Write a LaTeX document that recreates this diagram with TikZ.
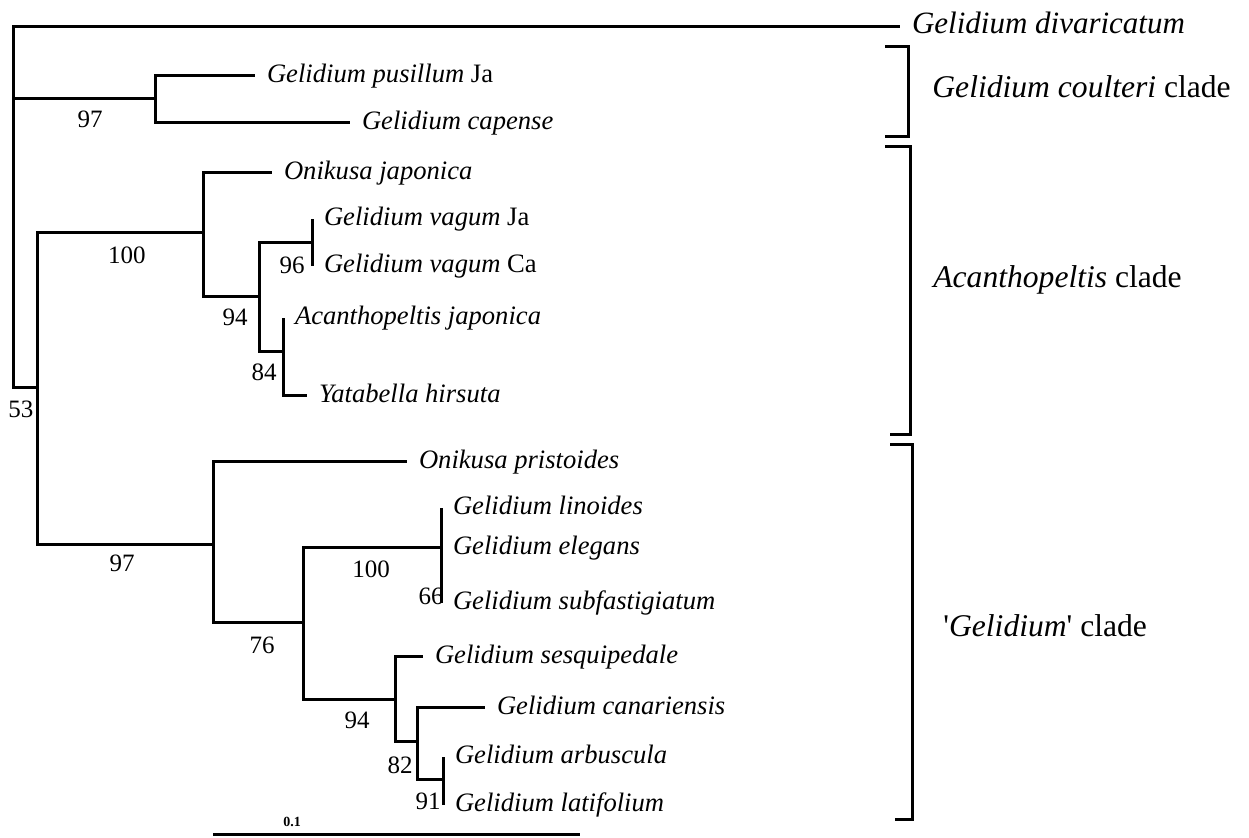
\documentclass[tikz,border=0pt]{standalone}
\usepackage{fontspec}
\setmainfont{Liberation Serif}

\begin{document}
\begin{tikzpicture}[x=0.5pt,y=-0.5pt,
    branch/.style={line width=1.5pt},
    bracket/.style={line width=1.5pt},
    taxon/.style={anchor=west,inner sep=0pt,outer xsep=6pt,text height=0.68em,text depth=0pt,
      font=\fontsize{13.3}{16}\selectfont\itshape},
    boot/.style={inner sep=0pt,font=\fontsize{12.5}{14}\selectfont},
    cladelab/.style={anchor=west,inner sep=0pt,text height=0.68em,text depth=0pt,
      font=\fontsize{15.8}{19}\selectfont}]
    \useasboundingbox (0,0) rectangle (1249,838);

    % internal nodes of the tree
    \coordinate (root) at (13,99);
    \coordinate (coul) at (155,99);
    \coordinate (ingr) at (37,388);
    \coordinate (acan) at (203,233);
    \coordinate (acan2) at (259,297);
    \coordinate (vagm) at (312,243);
    \coordinate (acan3) at (283,352);
    \coordinate (geli) at (213,545);
    \coordinate (geli2) at (303,623);
    \coordinate (lino) at (441,548);
    \coordinate (geli3) at (395,700);
    \coordinate (geli4) at (417,742);
    \coordinate (arbu) at (443,780);

    % taxa
    \node[taxon,font=\fontsize{15.5}{18}\selectfont\itshape] (divar) at (900,27) {Gelidium divaricatum};
    \node[taxon] (pusil) at (255,76) {Gelidium pusillum\/ {\upshape Ja}};
    \node[taxon] (capen) at (350,123) {Gelidium capense};
    \node[taxon] (onjap) at (272,173) {Onikusa japonica};
    \node[taxon] (vagja) at (312,219) {Gelidium vagum\/ {\upshape Ja}};
    \node[taxon] (vagca) at (312,266) {Gelidium vagum\/ {\upshape Ca}};
    \node[taxon] (acjap) at (283,318) {Acanthopeltis japonica};
    \node[taxon] (yatab) at (307,396) {Yatabella hirsuta};
    \node[taxon] (onpri) at (407,462) {Onikusa pristoides};
    \node[taxon] (linoi) at (441,508) {Gelidium linoides};
    \node[taxon] (elega) at (441,548) {Gelidium elegans};
    \node[taxon] (subfa) at (441,603) {Gelidium subfastigiatum};
    \node[taxon] (sesqu) at (423,657) {Gelidium sesquipedale};
    \node[taxon] (canar) at (485,708) {Gelidium canariensis};
    \node[taxon] (arbus) at (443,757) {Gelidium arbuscula};
    \node[taxon] (latif) at (443,805) {Gelidium latifolium};

    % branches
    \draw[branch] (root) |- (divar.west);
    \draw[branch] (root) |- (coul);
    \draw[branch] (root) |- (ingr);
    \draw[branch] (coul) |- (pusil.west);
    \draw[branch] (coul) |- (capen.west);
    \draw[branch] (ingr) |- (acan);
    \draw[branch] (ingr) |- (geli);
    \draw[branch] (acan) |- (onjap.west);
    \draw[branch] (acan) |- (acan2);
    \draw[branch] (acan2) |- (vagm);
    \draw[branch] (acan2) |- (acan3);
    \draw[branch] (vagm) |- (vagja.west);
    \draw[branch] (vagm) |- (vagca.west);
    \draw[branch] (acan3) |- (acjap.west);
    \draw[branch] (acan3) |- (yatab.west);
    \draw[branch] (geli) |- (onpri.west);
    \draw[branch] (geli) |- (geli2);
    \draw[branch] (geli2) |- (lino);
    \draw[branch] (geli2) |- (geli3);
    \draw[branch] (lino) |- (linoi.west);
    \draw[branch] (lino) |- (elega.west);
    \draw[branch] (lino) |- (subfa.west);
    \draw[branch] (geli3) |- (sesqu.west);
    \draw[branch] (geli3) |- (geli4);
    \draw[branch] (geli4) |- (canar.west);
    \draw[branch] (geli4) |- (arbu);
    \draw[branch] (arbu) |- (arbus.west);
    \draw[branch] (arbu) |- (latif.west);

    % bootstrap values
    \foreach \bx/\by/\bv [count=\k] in {90/119/97,21/409/53,127/255/100,292/265/96,235/317/94,
                       264/372/84,122/563/97,262/645/76,371/569/100,431/596/66,
                       357/720/94,400/765/82,428/801/91}
      {\node[boot] (bs\k) at (\bx,\by) {\bv};}

    % clades
    \draw[bracket] (885,47) -| (908,137) -- (885,137);
    \draw[bracket] (885,147) -| (910,435) -- (890,435);
    \draw[bracket] (890,445) -| (912,820) -- (895,820);
    \node[cladelab] (coulc) at (932,91) {\textit{Gelidium coulteri} clade};
    \node[cladelab] (acanc) at (933,281) {\textit{Acanthopeltis} clade};
    \node[cladelab] (gelic) at (943,630) {\textquotesingle\textit{Gelidium}\textquotesingle\ clade};

    % scale bar
    \coordinate (sbl) at (213,835);
    \coordinate (sbr) at (580,835);
    \draw[line width=1.5pt] (sbl) -- (sbr);
    \node[inner sep=0pt,font=\fontsize{7}{8}\selectfont\bfseries] (sblab) at (292,822) {0.1};
  \end{tikzpicture}
\end{document}
